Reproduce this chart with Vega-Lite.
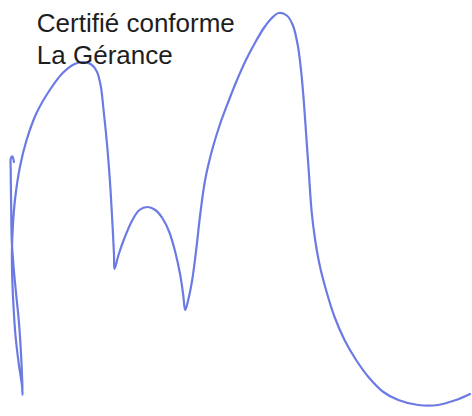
{
  "$schema": "https://vega.github.io/schema/vega-lite/v6.json",
  "width": 472,
  "height": 416,
  "autosize": {"type": "fit", "contains": "padding"},
  "padding": 0,
  "background": "white",
  "config": {"view": {"stroke": null}},
  "layer": [
    {
      "data": {"values": [
        {"i": 1, "x": 14, "y": 162}, {"i": 2, "x": 12.5, "y": 156.5}, {"i": 3, "x": 11, "y": 158},
        {"i": 4, "x": 10.8, "y": 172}, {"i": 5, "x": 11.2, "y": 205}, {"i": 6, "x": 11.8, "y": 240},
        {"i": 7, "x": 13.5, "y": 265}, {"i": 8, "x": 16, "y": 292}, {"i": 9, "x": 19, "y": 322},
        {"i": 10, "x": 21, "y": 352}, {"i": 11, "x": 22.3, "y": 380}, {"i": 12, "x": 22.7, "y": 395},
        {"i": 13, "x": 22, "y": 385}, {"i": 14, "x": 19, "y": 365}, {"i": 15, "x": 15.5, "y": 335},
        {"i": 16, "x": 13.5, "y": 305}, {"i": 17, "x": 12.2, "y": 275}, {"i": 18, "x": 12, "y": 250},
        {"i": 19, "x": 13, "y": 225}, {"i": 20, "x": 15, "y": 200}, {"i": 21, "x": 20, "y": 167},
        {"i": 22, "x": 26.7, "y": 140}, {"i": 23, "x": 36.7, "y": 113}, {"i": 24, "x": 50, "y": 90},
        {"i": 25, "x": 63, "y": 73}, {"i": 26, "x": 75, "y": 64}, {"i": 27, "x": 83, "y": 62},
        {"i": 28, "x": 91, "y": 64}, {"i": 29, "x": 97, "y": 71}, {"i": 30, "x": 101, "y": 85},
        {"i": 31, "x": 104, "y": 110}, {"i": 32, "x": 108, "y": 150}, {"i": 33, "x": 111, "y": 190},
        {"i": 34, "x": 113, "y": 225}, {"i": 35, "x": 114.5, "y": 255}, {"i": 36, "x": 115, "y": 269},
        {"i": 37, "x": 119, "y": 255}, {"i": 38, "x": 125, "y": 238}, {"i": 39, "x": 133, "y": 220},
        {"i": 40, "x": 140, "y": 210}, {"i": 41, "x": 148, "y": 207}, {"i": 42, "x": 156, "y": 210},
        {"i": 43, "x": 163, "y": 218}, {"i": 44, "x": 170, "y": 232}, {"i": 45, "x": 176, "y": 252},
        {"i": 46, "x": 181, "y": 275}, {"i": 47, "x": 184, "y": 295}, {"i": 48, "x": 186, "y": 310},
        {"i": 49, "x": 189, "y": 300}, {"i": 50, "x": 193, "y": 280}, {"i": 51, "x": 197, "y": 250},
        {"i": 52, "x": 201, "y": 215}, {"i": 53, "x": 206, "y": 180}, {"i": 54, "x": 213, "y": 150},
        {"i": 55, "x": 221, "y": 124}, {"i": 56, "x": 230, "y": 100}, {"i": 57, "x": 238, "y": 80},
        {"i": 58, "x": 247, "y": 60}, {"i": 59, "x": 256, "y": 43}, {"i": 60, "x": 265, "y": 28},
        {"i": 61, "x": 273, "y": 18}, {"i": 62, "x": 280, "y": 13}, {"i": 63, "x": 288, "y": 15.5},
        {"i": 64, "x": 294, "y": 25}, {"i": 65, "x": 299, "y": 45}, {"i": 66, "x": 302.5, "y": 72},
        {"i": 67, "x": 305, "y": 100}, {"i": 68, "x": 307.5, "y": 135}, {"i": 69, "x": 310, "y": 170},
        {"i": 70, "x": 313, "y": 212}, {"i": 71, "x": 316.5, "y": 240}, {"i": 72, "x": 321, "y": 265},
        {"i": 73, "x": 328, "y": 292}, {"i": 74, "x": 336, "y": 317}, {"i": 75, "x": 346, "y": 340},
        {"i": 76, "x": 357, "y": 359}, {"i": 77, "x": 370, "y": 377}, {"i": 78, "x": 385, "y": 392},
        {"i": 79, "x": 400, "y": 400}, {"i": 80, "x": 420, "y": 405}, {"i": 81, "x": 440, "y": 405},
        {"i": 82, "x": 458, "y": 400}, {"i": 83, "x": 472, "y": 394}
      ]},
      "mark": {"type": "line", "color": "#6b7be3", "strokeWidth": 2.2, "interpolate": "catmull-rom", "strokeCap": "round", "strokeJoin": "round"},
      "encoding": {
        "x": {"field": "x", "type": "quantitative", "scale": {"domain": [0, 472], "nice": false, "zero": false}, "axis": null},
        "y": {"field": "y", "type": "quantitative", "scale": {"domain": [0, 416], "reverse": true, "nice": false, "zero": false}, "axis": null},
        "order": {"field": "i", "type": "quantitative"}
      }
    },
    {
      "data": {"values": [
        {"label": "Certifié conforme", "x": 37, "y": 32},
        {"label": "La Gérance", "x": 37, "y": 64}
      ]},
      "mark": {"type": "text", "align": "left", "baseline": "alphabetic", "font": "Liberation Sans", "fontSize": 26, "color": "#1e1e1e"},
      "encoding": {
        "x": {"field": "x", "type": "quantitative", "scale": {"domain": [0, 472], "nice": false, "zero": false}, "axis": null},
        "y": {"field": "y", "type": "quantitative", "scale": {"domain": [0, 416], "reverse": true, "nice": false, "zero": false}, "axis": null},
        "text": {"field": "label"}
      }
    }
  ]
}
